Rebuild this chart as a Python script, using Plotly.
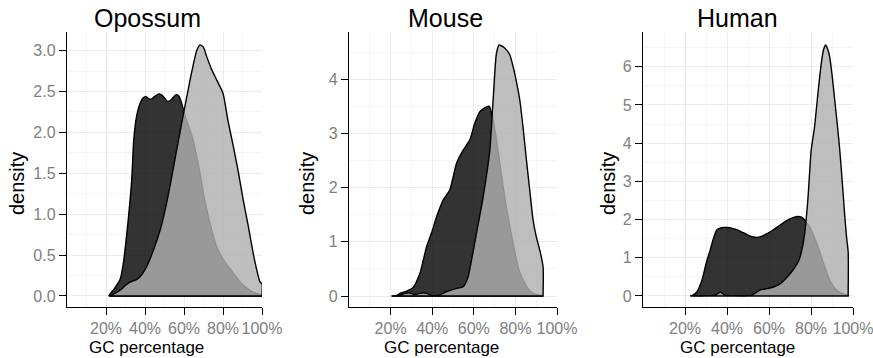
import plotly.graph_objects as go

# ---------------- data (GC fraction vs. density) ----------------
panel_titles = ["Opossum", "Mouse", "Human"]
x_tick_vals = [0.2, 0.4, 0.6, 0.8, 1.0]
x_tick_text = ["20%", "40%", "60%", "80%", "100%"]

opossum_y_ticks = [0.0, 0.5, 1.0, 1.5, 2.0, 2.5, 3.0]
opossum_y_text = ["0.0", "0.5", "1.0", "1.5", "2.0", "2.5", "3.0"]
mouse_y_ticks = [0, 1, 2, 3, 4]
human_y_ticks = [0, 1, 2, 3, 4, 5, 6]

opossum_dark_x = [0.214, 0.22, 0.246, 0.272, 0.289, 0.303, 0.314, 0.332, 0.342, 0.357, 0.374, 0.39,
                  0.405, 0.42, 0.435, 0.45, 0.47, 0.485, 0.50, 0.515, 0.53, 0.545, 0.56, 0.575, 0.59,
                  0.61, 0.63, 0.648, 0.665, 0.682, 0.70, 0.725, 0.745, 0.768, 0.80, 0.83, 0.853, 0.88,
                  0.91, 0.938, 0.97, 1.0]
opossum_dark_d = [0.0, 0.02, 0.1, 0.2, 0.4, 0.68, 0.93, 1.42, 1.9, 2.2, 2.35, 2.42, 2.44, 2.41, 2.41,
                  2.44, 2.47, 2.46, 2.42, 2.38, 2.39, 2.43, 2.46, 2.44, 2.34, 2.17, 2.03, 1.9, 1.7, 1.5,
                  1.25, 0.97, 0.78, 0.6, 0.45, 0.35, 0.28, 0.19, 0.12, 0.07, 0.03, 0.01]
opossum_light_x = [0.22, 0.245, 0.272, 0.3, 0.323, 0.357, 0.383, 0.409, 0.443, 0.477, 0.503, 0.528,
                   0.562, 0.596, 0.631, 0.665, 0.682, 0.70, 0.716, 0.74, 0.768, 0.8, 0.825, 0.853,
                   0.88, 0.904, 0.93, 0.955, 0.975, 0.99, 1.0]
opossum_light_d = [0.0, 0.03, 0.07, 0.13, 0.17, 0.2, 0.26, 0.36, 0.56, 0.8, 1.05, 1.34, 1.78, 2.21,
                   2.64, 3.0, 3.07, 3.04, 2.93, 2.78, 2.64, 2.48, 2.15, 1.83, 1.5, 1.17, 0.85, 0.52,
                   0.3, 0.17, 0.15]

mouse_dark_x = [0.205, 0.23, 0.245, 0.27, 0.307, 0.341, 0.357, 0.373, 0.40, 0.421, 0.453, 0.485,
                0.517, 0.549, 0.581, 0.605, 0.629, 0.661, 0.675, 0.69, 0.709, 0.725, 0.741, 0.757,
                0.773, 0.79, 0.805, 0.82, 0.837, 0.86, 0.885, 0.91, 0.93]
mouse_dark_d = [0.0, 0.01, 0.05, 0.08, 0.15, 0.42, 0.66, 0.91, 1.2, 1.46, 1.77, 1.96, 2.45, 2.69,
                2.88, 3.19, 3.4, 3.49, 3.5, 3.3, 2.88, 2.45, 2.02, 1.62, 1.28, 0.95, 0.66, 0.45,
                0.3, 0.14, 0.05, 0.02, 0.01]
mouse_light_x = [0.205, 0.24, 0.27, 0.29, 0.31, 0.32, 0.34, 0.36, 0.38, 0.40, 0.43, 0.469, 0.517,
                 0.549, 0.573, 0.589, 0.613, 0.645, 0.677, 0.693, 0.709, 0.722, 0.74, 0.757, 0.773,
                 0.789, 0.805, 0.821, 0.837, 0.853, 0.869, 0.885, 0.9, 0.917, 0.933]
mouse_light_d = [0.0, 0.01, 0.05, 0.06, 0.03, 0.03, 0.05, 0.06, 0.04, 0.01, 0.01, 0.08, 0.14,
                 0.17, 0.36, 0.66, 1.16, 1.83, 2.69, 3.62, 4.48, 4.63, 4.6, 4.54, 4.45, 4.23, 3.95,
                 3.62, 3.1, 2.51, 1.95, 1.4, 1.1, 0.85, 0.54]

human_dark_x = [0.225, 0.24, 0.257, 0.281, 0.297, 0.305, 0.32, 0.335, 0.352, 0.375, 0.4, 0.425,
                0.45, 0.475, 0.497, 0.52, 0.545, 0.57, 0.593, 0.617, 0.641, 0.665, 0.69, 0.715,
                0.738, 0.755, 0.77, 0.785, 0.801, 0.817, 0.833, 0.849, 0.865, 0.881, 0.897, 0.92,
                0.945, 0.965, 0.977]
human_dark_d = [0.0, 0.03, 0.11, 0.42, 0.77, 0.94, 1.2, 1.5, 1.73, 1.79, 1.79, 1.77, 1.73, 1.66,
                1.6, 1.55, 1.53, 1.57, 1.64, 1.72, 1.81, 1.9, 1.99, 2.05, 2.08, 2.06, 1.99, 1.88,
                1.73, 1.52, 1.29, 1.03, 0.77, 0.53, 0.33, 0.16, 0.07, 0.03, 0.02]
human_light_x = [0.225, 0.3, 0.34, 0.355, 0.368, 0.38, 0.395, 0.43, 0.5, 0.52, 0.56, 0.6, 0.624,
                 0.656, 0.688, 0.72, 0.743, 0.76, 0.77, 0.785, 0.801, 0.817, 0.833, 0.849, 0.86,
                 0.87, 0.88, 0.889, 0.9, 0.913, 0.925, 0.937, 0.95, 0.961, 0.97, 0.977]
human_light_d = [0.0, 0.0, 0.01, 0.06, 0.1, 0.06, 0.01, 0.0, 0.0, 0.03, 0.16, 0.2, 0.24, 0.33,
                 0.5, 0.72, 0.94, 1.3, 1.64, 2.51, 3.82, 4.43, 5.3, 6.09, 6.45, 6.57, 6.45, 6.26,
                 5.8, 5.13, 4.5, 3.82, 2.9, 2.08, 1.5, 1.15]

# ---------------- layout geometry ----------------
W, H = 873, 358
FONT = "Liberation Sans, Arial, Helvetica, sans-serif"
DARK_FILL = "rgba(0,0,0,0.8)"
LIGHT_FILL = "rgba(176,176,176,0.82)"
GRID_MAJOR = "#ebebeb"
GRID_MINOR = "#f4f4f4"
TICK_COL = "#808080"

x_domains = [[67 / W, 262 / W], [349 / W, 557 / W], [643 / W, 853 / W]]
y_domain = [1 - 307 / H, 1 - 32 / H]
y_ranges = [[-0.135, 3.228], [-0.203, 4.87], [-0.29, 6.91]]
title_x = [147, 446, 737]
xlab_x = [146.5, 441.7, 737.5]
ylab_x = [17, 307, 608]

panels = [
    (opossum_dark_x, opossum_dark_d, opossum_light_x, opossum_light_d,
     opossum_y_ticks, opossum_y_text, [0.25, 0.75, 1.25, 1.75, 2.25, 2.75]),
    (mouse_dark_x, mouse_dark_d, mouse_light_x, mouse_light_d,
     mouse_y_ticks, [str(v) for v in mouse_y_ticks], [0.5, 1.5, 2.5, 3.5, 4.5]),
    (human_dark_x, human_dark_d, human_light_x, human_light_d,
     human_y_ticks, [str(v) for v in human_y_ticks], [0.5, 1.5, 2.5, 3.5, 4.5, 5.5, 6.5]),
]


def polygon(xs, ds):
    # closed outline: baseline start, curve, drop to baseline, back along baseline
    px = [xs[0], xs[0]] + list(xs) + [xs[-1], xs[-1], xs[0], xs[0]]
    py = [0.0, 0.0] + list(ds) + [0.0, 0.0, 0.0, 0.0]
    return px, py


fig = go.Figure()
layout = dict(
    template="none",
    width=W, height=H, autosize=False,
    margin=dict(l=0, r=0, t=0, b=0, pad=0),
    paper_bgcolor="white", plot_bgcolor="white",
    showlegend=False,
    font=dict(family=FONT, color="black"),
)
annotations = []

for i, (dx, dd, lx, ld, yt, ytt, yminor) in enumerate(panels):
    n = "" if i == 0 else str(i + 1)
    xa, ya = "x" + n, "y" + n
    for xs, ds, fillc in ((dx, dd, DARK_FILL), (lx, ld, LIGHT_FILL)):
        px, py = polygon(xs, ds)
        fig.add_trace(go.Scatter(
            x=px, y=py, mode="lines", fill="toself", fillcolor=fillc,
            line=dict(color="black", width=1.4, shape="spline", smoothing=0.6),
            xaxis=xa, yaxis=ya, hoverinfo="skip"))
    layout["xaxis" + n] = dict(
        domain=x_domains[i], anchor=ya, range=[0, 1], automargin=False,
        tickmode="array", tickvals=x_tick_vals, ticktext=x_tick_text, tickangle=0,
        ticklabeloverflow="allow",
        showline=True, linecolor="black", linewidth=1.4,
        ticks="outside", ticklen=7, tickwidth=1.2, tickcolor="black",
        tickfont=dict(size=16, color=TICK_COL, family=FONT), ticklabelstandoff=0,
        showgrid=True, gridcolor=GRID_MAJOR, gridwidth=1, zeroline=False,
        minor=dict(tickvals=[0.1, 0.3, 0.5, 0.7, 0.9], showgrid=True,
                   gridcolor=GRID_MINOR, gridwidth=1, ticks=""),
        fixedrange=True,
    )
    layout["yaxis" + n] = dict(
        domain=y_domain, anchor=xa, range=y_ranges[i], automargin=False,
        tickmode="array", tickvals=yt, ticktext=ytt,
        ticklabeloverflow="allow",
        showline=True, linecolor="black", linewidth=1.4,
        ticks="outside", ticklen=7, tickwidth=1.2, tickcolor="black",
        tickfont=dict(size=16, color=TICK_COL, family=FONT),
        showgrid=True, gridcolor=GRID_MAJOR, gridwidth=1, zeroline=False,
        minor=dict(tickvals=yminor, showgrid=True, gridcolor=GRID_MINOR,
                   gridwidth=1, ticks=""),
        fixedrange=True,
    )
    annotations.append(dict(
        text=panel_titles[i], x=title_x[i] / W, y=1 - 18 / H, xref="paper", yref="paper",
        xanchor="center", yanchor="middle", showarrow=False,
        font=dict(size=25, color="black", family=FONT)))
    annotations.append(dict(
        text="GC percentage", x=xlab_x[i] / W, y=1 - 347 / H, xref="paper", yref="paper",
        xanchor="center", yanchor="middle", showarrow=False,
        font=dict(size=17, color="black", family=FONT)))
    annotations.append(dict(
        text="density", x=ylab_x[i] / W, y=1 - 184 / H, xref="paper", yref="paper",
        xanchor="center", yanchor="middle", showarrow=False, textangle=-90,
        font=dict(size=20, color="black", family=FONT)))

layout["annotations"] = annotations
fig.update_layout(**layout)
fig.write_html(
    "out.html",
    config={"displayModeBar": False, "responsive": False},
    post_script="document.body.style.margin='0';document.body.style.overflow='hidden';",
)
